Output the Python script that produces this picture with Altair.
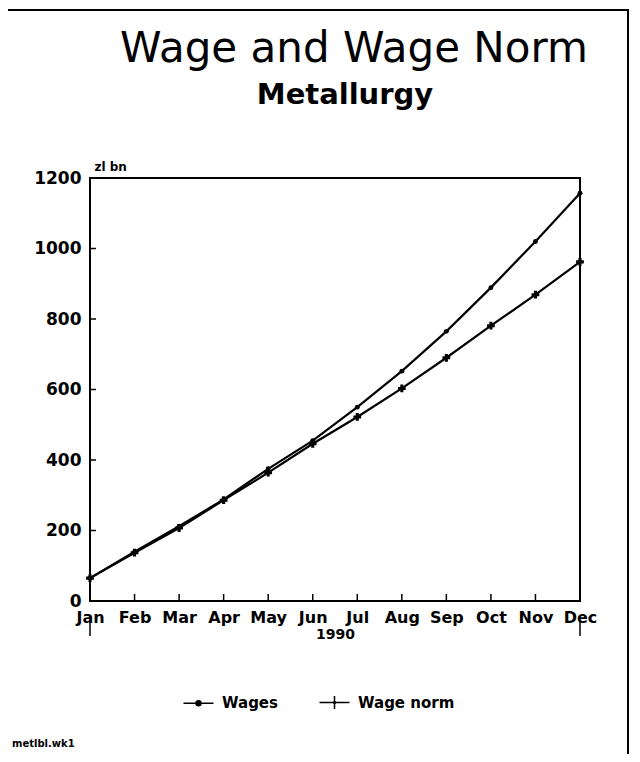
import altair as alt
import pandas as pd

months = ["Jan", "Feb", "Mar", "Apr", "May", "Jun", "Jul", "Aug", "Sep", "Oct", "Nov", "Dec"]
wages = [65, 140, 212, 288, 375, 455, 550, 652, 765, 889, 1020, 1157]
wage_norm = [65, 137, 207, 286, 364, 446, 522, 603, 690, 781, 869, 962]
series_names = ["Wages", "Wage norm"]
y_ticks = [0, 200, 400, 600, 800, 1000, 1200]
inner_y_ticks = [200, 400, 600, 800, 1000]
title_text = "Wage and Wage Norm"
subtitle_text = "Metallurgy"
footer_text = "metlbl.wk1"

rows = []
for m, w, n in zip(months, wages, wage_norm):
    rows.append({"Month": m, "Series": "Wages", "Value": w})
    rows.append({"Month": m, "Series": "Wage norm", "Value": n})
df = pd.DataFrame(rows)

W, H = 490, 423
FONT = "DejaVu Sans"

x_enc = alt.X(
    "Month:O", sort=months,
    scale=alt.Scale(type="point", padding=0, domain=months),
    axis=alt.Axis(labelAngle=0, ticks=False, domain=False, grid=False,
                  labelFont=FONT, labelFontWeight="bold", labelFontSize=16,
                  labelColor="black", labelPadding=8,
                  title="1990", titleFont=FONT, titleFontWeight="bold",
                  titleFontSize=14, titleColor="black", titlePadding=2),
)
y_scale = alt.Scale(domain=[0, 1200], nice=False)
y_enc = alt.Y(
    "Value:Q", scale=y_scale,
    axis=alt.Axis(values=y_ticks, format="d", ticks=False, domain=False, grid=False,
                  labelFont=FONT, labelFontWeight="bold", labelFontSize=17,
                  labelColor="black", labelPadding=9,
                  title="zl bn", titleAngle=0, titleX=4, titleY=-8,
                  titleAlign="left", titleBaseline="alphabetic",
                  titleFont=FONT, titleFontWeight="bold", titleFontSize=12,
                  titleColor="black"),
)

base = alt.Chart(df)

lines = base.mark_line(color="black", strokeWidth=2.2).encode(
    x=x_enc, y=y_enc, detail="Series:N"
)
pts_w = base.transform_filter(alt.datum.Series == "Wages").mark_point(
    shape="circle", filled=True, color="black", size=24, opacity=1
).encode(x="Month:O", y="Value:Q")
pts_n = base.transform_filter(alt.datum.Series == "Wage norm").mark_point(
    shape="cross", filled=True, color="black", size=60, opacity=1
).encode(x="Month:O", y="Value:Q")

dot = ("M-0.5,0A0.5,0.5,0,1,0,0.5,0A0.5,0.5,0,1,0,-0.5,0Z"
       "M-0.3,0A0.3,0.3,0,1,0,0.3,0A0.3,0.3,0,1,0,-0.3,0Z"
       "M-0.1,0A0.1,0.1,0,1,0,0.1,0A0.1,0.1,0,1,0,-0.1,0Z")
path_w = "M-3,0H3" + dot
path_n = "M-3,0H3M0,-1.3V1.3M-0.3,0.1H0.3M-0.3,-0.1H0.3"
legend_layer = base.mark_point(filled=False, color="black", size=0.01, strokeWidth=1.5).encode(
    x="Month:O", y="Value:Q",
    shape=alt.Shape(
        "Series:N",
        scale=alt.Scale(domain=series_names, range=[path_w, path_n]),
        legend=alt.Legend(
            title=None, orient="none", direction="horizontal",
            legendX=101, legendY=517,
            symbolSize=100, symbolFillColor="black", symbolStrokeColor="black",
            symbolStrokeWidth=1.5, symbolOpacity=1, labelOffset=16,
            columnPadding=38, labelFont=FONT, labelFontWeight="bold",
            labelFontSize=15, labelColor="black",
        ),
    ),
)

tick_df = pd.DataFrame({"Value": inner_y_ticks})
y_inner = alt.Chart(tick_df).mark_rule(color="black", strokeWidth=1.5).encode(
    y=alt.Y("Value:Q", scale=y_scale), x=alt.value(0), x2=alt.value(6)
)
x_tick_df = pd.DataFrame({"Month": months[1:-1]})
x_inner = alt.Chart(x_tick_df).mark_rule(color="black", strokeWidth=1.5).encode(
    x=alt.X("Month:O", sort=months), y=alt.value(H), y2=alt.value(H - 7)
)
end_df = pd.DataFrame({"Month": [months[0], months[-1]]})
end_marks = alt.Chart(end_df).mark_rule(color="black", strokeWidth=1.5).encode(
    x=alt.X("Month:O", sort=months), y=alt.value(H + 20), y2=alt.value(H + 35)
)

frame = alt.Chart(pd.DataFrame({"k": [0]})).mark_rect(
    fillOpacity=0, stroke="black", strokeWidth=2
).encode(x=alt.value(0), x2=alt.value(W), y=alt.value(0), y2=alt.value(H))

title_mark = alt.Chart(pd.DataFrame({"t": [title_text]})).mark_text(
    align="center", baseline="alphabetic", font=FONT, fontSize=42,
    fontWeight="normal", color="black"
).encode(text="t:N", x=alt.value(264), y=alt.value(-116))
subtitle_mark = alt.Chart(pd.DataFrame({"t": [subtitle_text]})).mark_text(
    align="center", baseline="alphabetic", font=FONT, fontSize=29,
    fontWeight="bold", color="black"
).encode(text="t:N", x=alt.value(255), y=alt.value(-74))

footer = alt.Chart(pd.DataFrame({"t": [footer_text]})).mark_text(
    align="left", baseline="alphabetic", font=FONT, fontWeight="bold",
    fontSize=10, color="black"
).encode(text="t:N", x=alt.value(-78), y=alt.value(569))

border = alt.Chart(pd.DataFrame({"k": [0]})).mark_rect(
    fillOpacity=0, stroke="black", strokeWidth=2
).encode(x=alt.value(-85), x2=alt.value(538), y=alt.value(-168), y2=alt.value(600))

chart = alt.layer(
    lines, pts_w, pts_n, legend_layer, y_inner, x_inner, end_marks, frame,
    title_mark, subtitle_mark, footer, border
).properties(
    width=W, height=H,
    autosize=alt.AutoSizeParams(type="none"),
    padding={"left": 82, "top": 170, "right": 52, "bottom": 153},
).configure_view(stroke=None).configure(background="white")

chart.save("out.html", embed_options={"renderer": "svg", "actions": False})
